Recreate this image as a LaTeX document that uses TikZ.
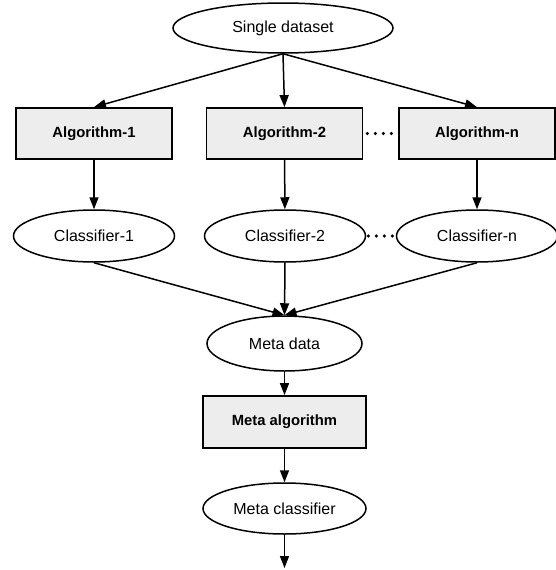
\documentclass[tikz,border=0pt]{standalone}
\usepackage{fontspec}
\setmainfont{Liberation Sans}
\usetikzlibrary{arrows.meta,shapes.geometric}

\begin{document}
\begin{tikzpicture}[x=1pt, y=-1pt,
    every node/.style={font=\fontsize{16}{19}\selectfont, inner sep=0pt},
    algbox/.style={draw, line width=1.8pt, fill=black!7, minimum width=156pt, minimum height=51pt,
        font=\fontsize{14.8}{18}\selectfont\bfseries},
    oval/.style={draw, ellipse, line width=1.5pt, minimum width=161pt, minimum height=52pt},
    flow/.style={-{Triangle[length=12pt, width=9pt]}, line width=1.5pt},
    more/.style={line width=3.5pt, line cap=round, dash pattern=on 0pt off 8pt}]
    \useasboundingbox (0,0) rectangle (555,570);

    % Input data
    \node[oval, minimum width=220pt, minimum height=50pt] (data) at (283,28) {Single dataset};

    % Base level algorithms
    \node[algbox] (alg1) at (94,133.5) {Algorithm-1};
    \node[algbox] (alg2) at (284.5,133.5) {Algorithm-2};
    \node[algbox] (algn) at (477,133.5) {Algorithm-n};

    % Base level classifiers
    \node[oval] (cls1) at (94,236) {Classifier-1};
    \node[oval] (cls2) at (285,236) {Classifier-2};
    \node[oval] (clsn) at (477,236) {Classifier-n};

    % Meta level
    \node[oval, minimum width=155pt, minimum height=55pt] (mdata) at (284.5,343.5) {Meta data};
    \node[algbox, minimum width=163pt, minimum height=52pt] (malg) at (284.5,422) {Meta algorithm};
    \node[oval, minimum width=163pt, minimum height=51pt] (mcls) at (284.5,508.5) {Meta classifier};
    \coordinate (out) at (284.5,568);

    % Arrows
    \draw[flow] (data.south) -- (alg1.north);
    \draw[flow] (data.south) -- (alg2.north);
    \draw[flow] (data.south) -- (algn.north);
    \draw[flow] (alg1) -- (cls1);
    \draw[flow] (alg2) -- (cls2);
    \draw[flow] (algn) -- (clsn);
    \draw[flow] (cls1.south) -- (mdata.north);
    \draw[flow] (cls2.south) -- (mdata.north);
    \draw[flow] (clsn.south) -- (mdata.north);
    \draw[flow] (mdata) -- (malg);
    \draw[flow] (malg) -- (mcls);
    \draw[flow] (mcls) -- (out);

    % Dots
    \draw[more, shorten <=4pt, shorten >=3.5pt] (alg2.east) -- (algn.west);
    \draw[more, shorten <=2pt, shorten >=1pt] (cls2.east) -- (clsn.west);
\end{tikzpicture}
\end{document}
